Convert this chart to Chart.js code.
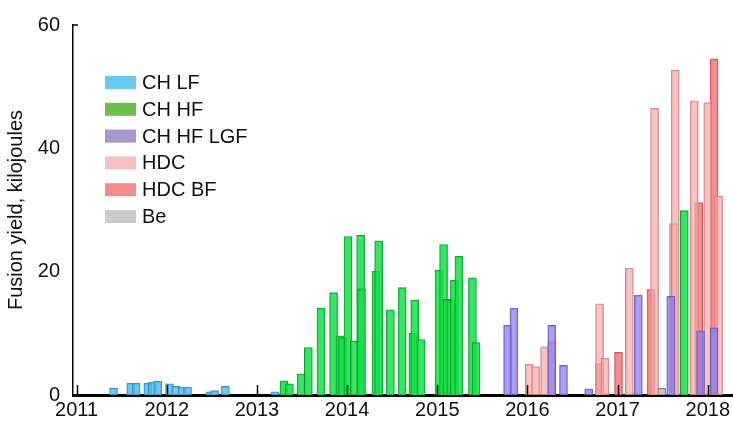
<!DOCTYPE html>
<html>
<head>
<meta charset="utf-8">
<script src="https://cdn.jsdelivr.net/npm/chart.js@4"></script>
<style>
  html, body { margin: 0; padding: 0; background: #fff; }
  #wrap { width: 733px; height: 424px; position: relative; }
</style>
</head>
<body>
<div id="wrap"><canvas id="yieldChart"></canvas></div>
<script>
// series names, as in the legend
var seriesNames = ["CH LF", "CH HF", "CH HF LGF", "HDC", "HDC BF", "Be"];

// shot dates (decimal year) and fusion yield (kJ)
var chLfYears = [2011.41, 2011.60, 2011.66, 2011.79, 2011.84, 2011.90, 2012.03, 2012.10, 2012.17, 2012.23, 2012.48, 2012.53, 2012.65, 2013.20];
var chLfYield = [1.1, 1.9, 1.9, 1.9, 2.1, 2.2, 1.8, 1.4, 1.3, 1.3, 0.5, 0.7, 1.4, 0.5];

var chHfYears = [2013.30, 2013.36, 2013.49, 2013.57, 2013.71, 2013.85, 2013.92, 2013.95, 2014.01, 2014.08, 2014.15, 2014.16, 2014.32, 2014.35, 2014.48, 2014.61, 2014.73, 2014.75, 2014.82, 2015.02, 2015.07, 2015.11, 2015.15, 2015.19, 2015.24, 2015.39, 2015.43, 2017.74];
var chHfYield = [2.3, 1.8, 3.4, 7.7, 14.1, 16.6, 9.6, 9.3, 25.7, 8.8, 25.9, 17.2, 20.1, 25.0, 13.8, 17.4, 10.0, 15.4, 9.0, 20.2, 24.4, 15.5, 15.4, 18.6, 22.5, 19.0, 8.5, 29.9];

var chHfLgfYears = [2015.78, 2015.85, 2016.27, 2016.40, 2016.68, 2017.23, 2017.59, 2017.92, 2018.07];
var chHfLgfYield = [11.3, 14.1, 11.3, 4.8, 1.0, 16.2, 16.0, 10.4, 10.9];

var hdcYears = [2016.02, 2016.09, 2016.19, 2016.27, 2016.80, 2016.86, 2017.13, 2017.41, 2017.62, 2017.64, 2017.85, 2018.00, 2018.12];
var hdcYield = [5.0, 4.6, 7.8, 8.6, 14.8, 6.0, 20.6, 46.5, 27.8, 52.7, 47.7, 47.4, 32.3];

var hdcBfYears = [2016.80, 2017.01, 2017.37, 2017.90, 2018.07];
var hdcBfYield = [5.1, 6.9, 17.1, 31.2, 54.5];

var beYears = [2017.49];
var beYield = [1.1];

var yearTicks = [2011, 2012, 2013, 2014, 2015, 2016, 2017, 2018];
var yieldTicks = [0, 20, 40, 60];

// bar fill / outline, and the flatter swatch colours used in the legend
var barFill = ["rgba(80,185,235,0.8)", "rgba(20,225,70,0.85)", "rgba(140,125,235,0.75)", "rgba(245,170,170,0.7)", "rgba(240,115,115,0.8)", "rgba(185,185,185,0.8)"];
var barLine = ["rgba(40,140,190,0.9)", "rgba(0,150,40,0.9)", "rgba(100,85,190,0.9)", "rgba(205,125,125,0.9)", "rgba(200,75,75,0.9)", "rgba(120,120,120,0.9)"];
var legendFill = ["#6dc8ef", "#6cc04a", "#a898cc", "#f8c0c4", "#f58c8c", "#cbcbcb"];

function pts(xs, ys) {
    var out = [];
    for (var i = 0; i < xs.length; i++) out.push({ x: xs[i], y: ys[i] });
    return out;
}

var allSeries = [
    pts(chLfYears, chLfYield),
    pts(chHfYears, chHfYield),
    pts(chHfLgfYears, chHfLgfYield),
    pts(hdcYears, hdcYield),
    pts(hdcBfYears, hdcBfYield),
    pts(beYears, beYield)
];

var datasets = allSeries.map(function (d, i) {
    return {
        label: seriesNames[i],
        data: d,
        backgroundColor: barFill[i],
        borderColor: barLine[i],
        borderWidth: 1,
        barThickness: 8,
        grouped: false
    };
});

var FONT = '"Liberation Sans", Arial, Helvetica, sans-serif';

// inward year ticks, the small top tick and the legend box
var extras = {
    id: 'extras',
    afterDraw: function (chart) {
        var ctx = chart.ctx;
        var xs = chart.scales.x, ys = chart.scales.y;
        var bottom = ys.getPixelForValue(0);
        ctx.save();
        ctx.strokeStyle = '#000';
        ctx.lineWidth = 1.5;
        yearTicks.forEach(function (yr) {
            if (yr <= xs.min) return;
            var px = Math.round(xs.getPixelForValue(yr)) + 0.5;
            ctx.beginPath();
            ctx.moveTo(px, bottom);
            ctx.lineTo(px, bottom - 10);
            ctx.stroke();
        });
        var top = ys.getPixelForValue(60);
        ctx.beginPath();
        ctx.moveTo(xs.left, top);
        ctx.lineTo(xs.left + 5, top);
        ctx.stroke();

        ctx.font = '20px ' + FONT;
        ctx.textBaseline = 'middle';
        ctx.textAlign = 'left';
        for (var i = 0; i < seriesNames.length; i++) {
            var cy = 82.5 + i * 26.8;
            ctx.fillStyle = legendFill[i];
            ctx.fillRect(105, cy - 6.5, 31, 13);
            ctx.fillStyle = '#111';
            ctx.fillText(seriesNames[i], 142, cy + 1);
        }
        ctx.restore();
    }
};

new Chart(document.getElementById('yieldChart'), {
    type: 'bar',
    data: { datasets: datasets },
    options: {
        responsive: true,
        maintainAspectRatio: false,
        animation: false,
        layout: { padding: { top: 22, right: 0, left: 0, bottom: 0 } },
        plugins: {
            legend: { display: false },
            tooltip: { enabled: false }
        },
        scales: {
            x: {
                type: 'linear',
                offset: false,
                min: 2010.96,
                max: 2018.28,
                grid: { display: false, drawTicks: false, offset: false },
                border: { display: true, color: '#000', width: 3 },
                afterBuildTicks: function (scale) {
                    scale.ticks = yearTicks.map(function (v) { return { value: v }; });
                },
                afterFit: function (scale) { scale.height = 29; },
                ticks: {
                    color: '#111',
                    font: { family: FONT, size: 20 },
                    padding: 3,
                    maxRotation: 0,
                    autoSkip: false,
                    callback: function (v) { return String(v); }
                }
            },
            y: {
                min: 0,
                max: 60,
                grid: { display: false, drawTicks: false },
                border: { display: true, color: '#000', width: 1.5 },
                afterBuildTicks: function (scale) {
                    scale.ticks = yieldTicks.map(function (v) { return { value: v }; });
                },
                afterFit: function (scale) { scale.width = 73; },
                ticks: {
                    color: '#111',
                    font: { family: FONT, size: 20 },
                    padding: 13
                },
                title: {
                    display: true,
                    text: 'Fusion yield, kilojoules',
                    color: '#111',
                    font: { family: FONT, size: 20 },
                    padding: { top: 4, bottom: 0 }
                }
            }
        }
    },
    plugins: [extras]
});
</script>
</body>
</html>
